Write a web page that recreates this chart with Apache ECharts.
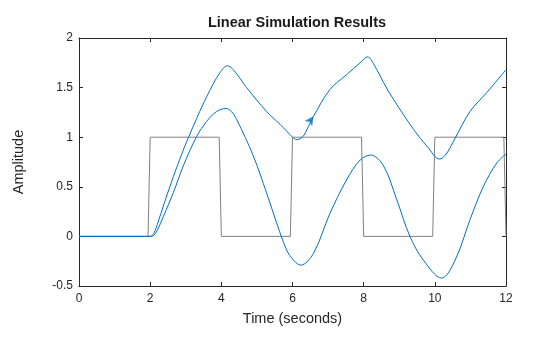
<!DOCTYPE html>
<html><head><meta charset="utf-8">
<script src="https://cdn.jsdelivr.net/npm/echarts@6/dist/echarts.min.js"></script>
<style>html,body{margin:0;padding:0;background:#fff}#c{width:560px;height:337px}</style>
</head><body><div id="c"></div>
<script>
// Input signal (square wave)
const inputT = [0, 1.94, 2, 3.94, 4, 5.94, 6, 7.94, 8, 9.94, 10, 11.94, 12];
const inputU = [0, 0, 1, 1, 0, 0, 1, 1, 0, 0, 1, 1, 0];
// Output 1 (upper response)
const out1T = [0, 2.0, 2.1, 2.2, 2.4, 2.65, 2.93, 3.21, 3.59, 3.96, 4.17, 4.34, 4.71, 5.27, 5.65, 5.84, 6.0, 6.12, 6.3, 6.45, 6.59, 7.05, 7.52, 7.9, 8.1, 8.37, 8.56, 8.84, 9.4, 9.8, 10.13, 10.3, 10.57, 10.99, 11.46, 12.0];
const out1V = [0, 0, 0.03, 0.12, 0.34, 0.6, 0.87, 1.11, 1.41, 1.65, 1.72, 1.68, 1.5, 1.26, 1.13, 1.06, 1.0, 0.975, 1.01, 1.11, 1.21, 1.48, 1.63, 1.75, 1.81, 1.68, 1.55, 1.38, 1.08, 0.9, 0.78, 0.82, 0.99, 1.26, 1.45, 1.68];
// Output 2 (lower response)
const out2T = [0, 2.0, 2.1, 2.2, 2.37, 2.65, 2.93, 3.31, 3.59, 3.78, 3.95, 4.13, 4.28, 4.43, 4.9, 5.27, 5.56, 5.84, 6.03, 6.23, 6.59, 7.05, 7.52, 7.9, 8.2, 8.56, 8.93, 9.3, 9.68, 10.19, 10.57, 10.99, 11.36, 11.74, 12.0];
const out2V = [0, 0, 0.01, 0.06, 0.2, 0.44, 0.71, 1.01, 1.16, 1.235, 1.275, 1.29, 1.26, 1.18, 0.81, 0.44, 0.13, -0.14, -0.24, -0.29, -0.17, 0.23, 0.57, 0.77, 0.82, 0.71, 0.37, 0.0, -0.24, -0.42, -0.24, 0.17, 0.5, 0.74, 0.83];
// Arrow marker on output 1
const markerT = [6.59];
const markerV = [1.21];

const zip = (a, b) => a.map((v, i) => [v, b[i]]);
const font = 'Liberation Sans, Arial, Helvetica, sans-serif';
const axCol = '#262626';
const chart = echarts.init(document.getElementById('c'), null, {renderer: 'canvas'});
const xBase = {
  type: 'value', min: 0, max: 12, interval: 2,
  axisLine: {show: true, onZero: false, lineStyle: {color: axCol, width: 1}},
  axisTick: {show: true, inside: true, length: 4, lineStyle: {color: axCol}},
  splitLine: {show: false}
};
const yBase = {
  type: 'value', min: -0.5, max: 2, interval: 0.5,
  axisLine: {show: true, onZero: false, lineStyle: {color: axCol, width: 1}},
  axisTick: {show: true, inside: true, length: 4, lineStyle: {color: axCol}},
  splitLine: {show: false}
};
chart.setOption({
  animation: false,
  backgroundColor: '#fff',
  title: {
    text: 'Linear Simulation Results', left: 292, top: 10, textAlign: 'center',
    textStyle: {fontFamily: font, fontSize: 14.5, fontWeight: 'bold', color: '#1a1a1a'}
  },
  grid: {left: 79, right: 54, top: 38, bottom: 51, containLabel: false},
  xAxis: [
    Object.assign({}, xBase, {
      position: 'bottom',
      name: 'Time (seconds)', nameLocation: 'middle', nameGap: 25,
      nameTextStyle: {fontFamily: font, fontSize: 14.5, color: axCol},
      axisLabel: {fontFamily: font, fontSize: 12, color: axCol, margin: 7}
    }),
    Object.assign({}, xBase, {position: 'top', axisLabel: {show: false}})
  ],
  yAxis: [
    Object.assign({}, yBase, {
      position: 'left',
      name: 'Amplitude', nameLocation: 'middle', nameGap: 53, nameRotate: 90,
      nameTextStyle: {fontFamily: font, fontSize: 14.5, color: axCol},
      axisLabel: {fontFamily: font, fontSize: 12, color: axCol, margin: 6}
    }),
    Object.assign({}, yBase, {position: 'right', axisLabel: {show: false}})
  ],
  series: [
    {type: 'line', data: zip(inputT, inputU), showSymbol: false, lineStyle: {color: '#808080', width: 1}, z: 2},
    {type: 'line', data: zip(out1T, out1V), showSymbol: false, smooth: 0.35, lineStyle: {color: '#0072BD', width: 1}, z: 3},
    {type: 'line', data: zip(out2T, out2V), showSymbol: false, smooth: 0.35, lineStyle: {color: '#0072BD', width: 1}, z: 3},
    {type: 'scatter', data: zip(markerT, markerV), symbol: 'arrow', symbolSize: [7, 9], symbolRotate: -35, itemStyle: {color: '#0072BD'}, z: 4}
  ]
});
</script>
</body></html>
